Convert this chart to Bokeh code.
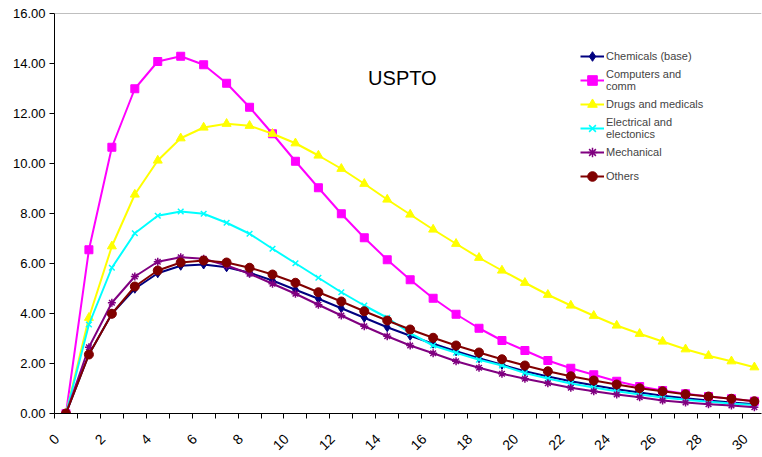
import numpy as np
from bokeh.plotting import figure
from bokeh.models import (FixedTicker, NumeralTickFormatter, Legend, LegendItem,
                          Label, Span, Range1d)
from bokeh.embed import file_html
from bokeh.resources import INLINE
from math import pi

years = list(range(0, 31))

chemicals = [0, 2.36, 3.99, 4.99, 5.61, 5.91, 5.96, 5.85, 5.63, 5.32, 4.95, 4.59, 4.21,
             3.83, 3.45, 3.11, 2.79, 2.49, 2.21, 1.95, 1.69, 1.48, 1.29, 1.13, 0.97,
             0.84, 0.71, 0.61, 0.52, 0.44, 0.37]
computers = [0, 6.55, 10.65, 12.99, 14.08, 14.29, 13.95, 13.21, 12.25, 11.19, 10.09, 9.03,
             7.99, 7.03, 6.15, 5.35, 4.61, 3.97, 3.41, 2.92, 2.52, 2.12, 1.81, 1.55,
             1.29, 1.08, 0.92, 0.79, 0.68, 0.59, 0.49]
drugs = [0, 3.83, 6.69, 8.76, 10.12, 11.01, 11.44, 11.59, 11.51, 11.19, 10.81, 10.32,
         9.79, 9.19, 8.56, 7.96, 7.36, 6.79, 6.23, 5.72, 5.23, 4.75, 4.32, 3.91,
         3.52, 3.19, 2.88, 2.57, 2.31, 2.09, 1.85]
electrical = [0, 3.56, 5.83, 7.21, 7.91, 8.08, 7.99, 7.63, 7.19, 6.59, 6.01, 5.43,
              4.85, 4.32, 3.83, 3.21, 2.72, 2.43, 2.15, 1.92, 1.62, 1.40, 1.20, 1.04,
              0.89, 0.76, 0.64, 0.55, 0.47, 0.40, 0.34]
mechanical = [0, 2.65, 4.43, 5.48, 6.07, 6.25, 6.19, 5.92, 5.59, 5.19, 4.79, 4.35,
              3.92, 3.49, 3.09, 2.72, 2.41, 2.09, 1.83, 1.59, 1.39, 1.21, 1.03, 0.89,
              0.76, 0.65, 0.52, 0.44, 0.37, 0.32, 0.25]
others = [0, 2.36, 3.99, 5.08, 5.72, 6.04, 6.12, 6.04, 5.83, 5.56, 5.23, 4.85, 4.48,
          4.09, 3.72, 3.36, 3.03, 2.72, 2.44, 2.17, 1.92, 1.69, 1.49, 1.32, 1.16,
          1.01, 0.89, 0.77, 0.68, 0.59, 0.49]

series_names = ["Chemicals (base)", "Computers and\ncomm", "Drugs and medicals",
                "Electrical and\nelectonics", "Mechanical", "Others"]
series_values = [chemicals, computers, drugs, electrical, mechanical, others]
series_colors = ["#000080", "#FF00FF", "#FFFF00", "#00FFFF", "#800080", "#800000"]
series_markers = ["diamond", "square", "triangle", "x", "asterisk", "circle"]
series_sizes = [9, 8, 9, 8, 8, 9]

x_tick_labels = list(range(0, 31, 2))
y_ticks = list(range(0, 17, 2))

FONT = "Liberation Sans"
LABEL_SHIFT = 0.4  # rotated labels sit slightly left of their category

p = figure(width=762, height=457, output_backend="svg", toolbar_location=None,
           x_range=Range1d(-0.5, 30.31), y_range=Range1d(0, 16),
           min_border_left=54, min_border_right=1, min_border_top=13,
           min_border_bottom=44)
p.outline_line_color = None
p.xgrid.visible = False
p.ygrid.visible = False
p.background_fill_color = "white"
p.border_fill_color = "white"

items = []
for name, vals, col, mk, sz in zip(series_names, series_values, series_colors,
                                   series_markers, series_sizes):
    r1 = p.line(years, vals, line_color=col, line_width=2)
    r2 = p.scatter(years, vals, marker=mk, size=sz, fill_color=col, line_color=col,
                   line_width=1.5 if mk in ("x", "asterisk") else 1)
    items.append(LegendItem(label=name, renderers=[r1, r2]))

# top border of plot area
p.add_layout(Span(location=16, dimension="width", line_color="#808080", line_width=1))

# x axis
label_pos = [t - LABEL_SHIFT for t in x_tick_labels]
p.xaxis.ticker = FixedTicker(ticks=label_pos,
                             minor_ticks=[k + 0.5 for k in range(-1, 31)])
p.xaxis.major_label_overrides = {pos: str(t) for pos, t in zip(label_pos, x_tick_labels)}
p.xaxis.major_tick_out = 0
p.xaxis.major_tick_in = 0
p.xaxis.minor_tick_out = 5
p.xaxis.minor_tick_in = 0
p.xaxis.minor_tick_line_color = "black"
p.xaxis.axis_line_color = "black"
p.xaxis.major_label_orientation = pi / 4
p.xaxis.major_label_text_font = FONT
p.xaxis.major_label_text_font_size = "14px"
p.xaxis.major_label_text_color = "black"
p.xaxis.major_label_standoff = 18

# y axis
p.yaxis.ticker = FixedTicker(ticks=y_ticks, minor_ticks=[])
p.yaxis.formatter = NumeralTickFormatter(format="0.00")
p.yaxis.major_tick_out = 5
p.yaxis.major_tick_in = 0
p.yaxis.minor_tick_out = 0
p.yaxis.axis_line_color = "black"
p.yaxis.major_label_text_font = FONT
p.yaxis.major_label_text_font_size = "13px"
p.yaxis.major_label_text_color = "black"
p.yaxis.major_label_standoff = 4

p.add_layout(Label(x=14.66, y=13.44, text="USPTO", text_align="center",
                   text_baseline="middle", text_font=FONT, text_font_size="20px",
                   text_color="black"))

legend = Legend(items=items, location=(526, 225), padding=0, margin=0, spacing=0,
                glyph_width=24, glyph_height=24, label_height=24, label_standoff=2,
                label_text_font=FONT, label_text_font_size="11px",
                label_text_line_height=1.0,
                border_line_color=None, background_fill_alpha=0)
p.add_layout(legend, "center")

open("out.html", "w").write(file_html(p, INLINE))
